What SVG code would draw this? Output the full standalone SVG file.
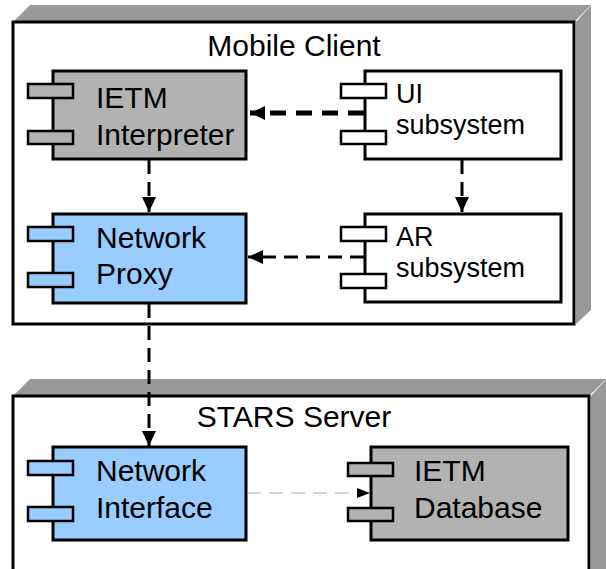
<svg xmlns="http://www.w3.org/2000/svg" width="606" height="569" viewBox="0 0 606 569">
<defs>
<style>
.face{fill:#999999;stroke:none}
.front{fill:#ffffff;stroke:#000;stroke-width:3}
.comp{stroke:#000;stroke-width:3}
.port{stroke:#000;stroke-width:2.5}
.gray{fill:#b2b2b2}
.blue{fill:#99ccff}
.white{fill:#ffffff}
.title{font-family:"Liberation Sans",Arial,sans-serif;font-size:30px;fill:#000}
.lbl{font-family:"Liberation Sans",Arial,sans-serif;font-size:30px;fill:#000}
.lbls{font-family:"Liberation Sans",Arial,sans-serif;font-size:27px;fill:#000}
.dash{fill:none;stroke:#000;stroke-width:3;stroke-dasharray:14 8}
.dashthick{fill:none;stroke:#000;stroke-width:5;stroke-dasharray:16 10}
.dashthin{fill:none;stroke:#aaaaaa;stroke-width:1;stroke-dasharray:14 8}
</style>
<marker id="ah" markerUnits="userSpaceOnUse" markerWidth="16" markerHeight="16" viewBox="0 0 16 16" refX="15" refY="8" orient="auto">
<path d="M0,1 L15,8 L0,15 z" fill="#000"/>
</marker>
<marker id="ahs" markerUnits="userSpaceOnUse" markerWidth="14" markerHeight="12" viewBox="0 0 14 12" refX="13" refY="6" orient="auto">
<path d="M0,1 L13,6 L0,11 z" fill="#000"/>
</marker>
</defs>

<g id="mobile-client">
<polygon class="face" points="13,22 30,5 591,5 574,22"/>
<polygon class="face" points="576,22 591,5 591,310 576,324"/>
<line x1="576" y1="22" x2="591" y2="5" stroke="#cccccc" stroke-width="1"/>
<rect class="front" x="13" y="22" width="561" height="302"/>
<text class="title" x="294" y="56" text-anchor="middle">Mobile Client</text>
</g>

<g id="stars-server">
<polygon class="face" points="13,396 30,379 606,379 589,396"/>
<polygon class="face" points="591,396 606,379 606,569 591,569"/>
<line x1="591" y1="396" x2="606" y2="379" stroke="#cccccc" stroke-width="1"/>
<rect class="front" x="13" y="396" width="576" height="190"/>
<text class="title" x="294" y="427" text-anchor="middle">STARS Server</text>
</g>

<g id="ietm-interpreter">
<rect class="comp gray" x="53" y="71" width="193" height="88"/>
<rect class="port gray" x="28" y="84" width="45" height="14"/>
<rect class="port gray" x="28" y="131" width="45" height="13"/>
<text class="lbl" x="96" y="108">IETM</text>
<text class="lbl" x="96" y="145">Interpreter</text>
</g>

<g id="ui-subsystem">
<rect class="comp white" x="365" y="71" width="196" height="88"/>
<rect class="port white" x="341" y="84" width="45" height="14"/>
<rect class="port white" x="341" y="131" width="45" height="13"/>
<text class="lbls" x="396" y="103">UI</text>
<text class="lbls" x="396" y="134">subsystem</text>
</g>

<g id="network-proxy">
<rect class="comp blue" x="53" y="214" width="193" height="89"/>
<rect class="port blue" x="28" y="227" width="45" height="14"/>
<rect class="port blue" x="28" y="273" width="45" height="14"/>
<text class="lbl" x="96" y="248">Network</text>
<text class="lbl" x="96" y="284">Proxy</text>
</g>

<g id="ar-subsystem">
<rect class="comp white" x="365" y="214" width="196" height="88"/>
<rect class="port white" x="341" y="227" width="45" height="14"/>
<rect class="port white" x="341" y="274" width="45" height="14"/>
<text class="lbls" x="396" y="246">AR</text>
<text class="lbls" x="396" y="277">subsystem</text>
</g>

<g id="network-interface">
<rect class="comp blue" x="53" y="447" width="193" height="93"/>
<rect class="port blue" x="28" y="461" width="45" height="14"/>
<rect class="port blue" x="28" y="507" width="45" height="14"/>
<text class="lbl" x="96" y="481">Network</text>
<text class="lbl" x="96" y="518">Interface</text>
</g>

<g id="ietm-database">
<rect class="comp gray" x="371" y="447" width="197" height="93"/>
<rect class="port gray" x="348" y="463" width="45" height="13"/>
<rect class="port gray" x="348" y="508" width="45" height="13"/>
<text class="lbl" x="414" y="481">IETM</text>
<text class="lbl" x="414" y="518">Database</text>
</g>

<g id="connectors">
<line class="dashthick" x1="364" y1="113" x2="250" y2="113" marker-end="url(#ah)"/>
<line class="dash" x1="149" y1="160" x2="149" y2="212" marker-end="url(#ah)"/>
<line class="dash" x1="462" y1="160" x2="462" y2="212" marker-end="url(#ah)"/>
<line class="dash" x1="364" y1="257" x2="248" y2="257" marker-end="url(#ah)"/>
<line class="dash" x1="149" y1="304" x2="149" y2="446" marker-end="url(#ah)"/>
<line class="dashthin" x1="247" y1="493" x2="370" y2="493" marker-end="url(#ahs)"/>
</g>
</svg>
